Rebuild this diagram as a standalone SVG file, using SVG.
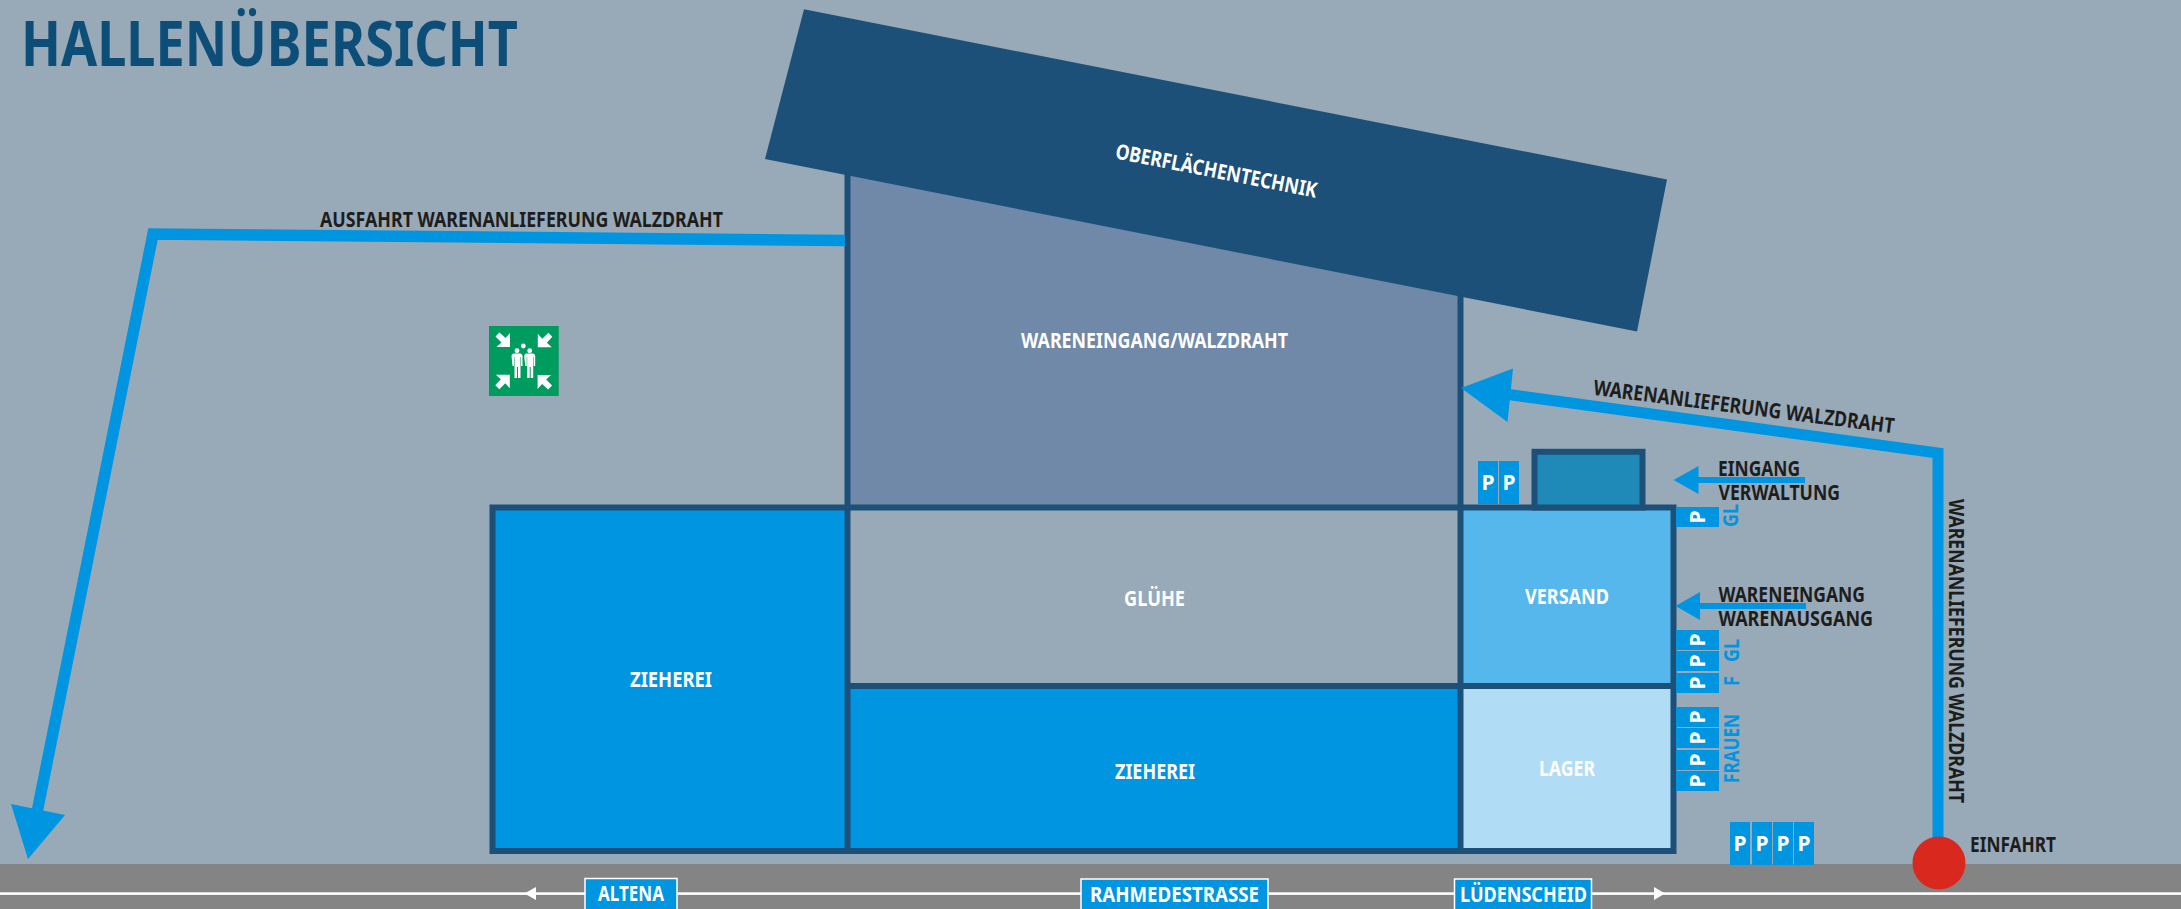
<svg xmlns="http://www.w3.org/2000/svg" xmlns:xlink="http://www.w3.org/1999/xlink" width="2181" height="909" viewBox="0 0 2181 909">
<defs>
<style>
text{font-family:"Noto Sans","Open Sans","Liberation Sans",sans-serif;font-weight:700;font-size:21px}
.w{fill:#fff}.k{fill:#1d1d1b}.b{fill:#0095e0}
.m{text-anchor:middle}
.wall{stroke:#1c5079;stroke-width:6;fill:none}
.route{stroke:#0095e0;fill:none}
.pb{fill:#0095e0}
.road{fill:#0095e0;stroke:#fff;stroke-width:1.5}
</style>
<polygon id="sa" fill="#fff" points="510,347 510,333 505.500,338 499.500,332.500 495.500,336.500 501.500,342.500 496.500,347"/>
<path id="person" fill="#fff" d="M511.500 356q0-2 2-2.500h7q2 .5 2 2.500v10h-1.500v-9h-.5v21h-2.500v-11h-1v11h-2.500v-21h-.5v9h-1.500z"/>
<g id="pv"><rect class="pb" x="0" y="0" width="43" height="20"/><text class="w m" transform="translate(29 10) rotate(-90)">P</text></g>
</defs>
<rect id="background" width="2181" height="909" fill="#98a9b8"/>
<g id="road"><rect y="864" width="2181" height="45" fill="#848484"/><rect y="892.300" width="2181" height="2.600" fill="#fff"/><polygon fill="#fff" points="524.500,893.500 536,887 536,900"/><polygon fill="#fff" points="1665,893.500 1654,887 1654,900"/></g>
<text id="title" x="21" y="66" style="font-size:62px;fill:#0d4e78" textLength="497" lengthAdjust="spacingAndGlyphs">HALLENÜBERSICHT</text>
<g id="n-wareneingang"><polygon points="847,100 1460,220 1460,510 847,510" fill="#7089a8"/><path class="wall" d="M847.500 170V507M1460.500 290V507"/><text class="w" x="1021" y="348" textLength="267" lengthAdjust="spacingAndGlyphs">WARENEINGANG/WALZDRAHT</text></g>
<g id="n-oberflaeche"><polygon points="804,9.300 1667,179.500 1637,331.500 765,159" fill="#1c5079"/><text class="w m" transform="translate(1215 178) rotate(11.100)" textLength="205" lengthAdjust="spacingAndGlyphs">OBERFLÄCHENTECHNIK</text></g>
<g id="n-zieherei1"><rect x="492.500" y="507.500" width="355" height="343.500" fill="#0095e0"/><text class="w" x="630" y="687" textLength="82" lengthAdjust="spacingAndGlyphs">ZIEHEREI</text></g>
<g id="n-gluehe"><text class="w" x="1124" y="606" textLength="61" lengthAdjust="spacingAndGlyphs">GLÜHE</text></g>
<g id="n-zieherei2"><rect x="847.500" y="686" width="613" height="165" fill="#0095e0"/><text class="w" x="1115" y="779" textLength="80" lengthAdjust="spacingAndGlyphs">ZIEHEREI</text></g>
<g id="n-versand"><rect x="1460.500" y="507.500" width="213" height="178.500" fill="#55b7ec"/><text class="w" x="1525" y="604" textLength="84" lengthAdjust="spacingAndGlyphs">VERSAND</text></g>
<g id="n-lager"><rect x="1460.500" y="686" width="213" height="165" fill="#b1dcf6"/><text class="w" x="1539" y="776" textLength="56" lengthAdjust="spacingAndGlyphs">LAGER</text></g>
<g id="n-walls"><path class="wall" d="M492.500 507.500H1673.500V851H492.500ZM847.500 507.500V851M1460.500 507.500V851M847.500 686H1673.500"/></g>
<g id="n-verwaltung"><rect x="1534.500" y="451.800" width="108" height="55.700" class="wall" style="fill:#1f89b7"/></g>
<g id="n-sign"><rect x="489" y="326" width="69.700" height="70" fill="#009b5f"/><use xlink:href="#sa"/><use xlink:href="#sa" transform="rotate(90 523.800 361)"/><use xlink:href="#sa" transform="rotate(180 523.800 361)"/><use xlink:href="#sa" transform="rotate(270 523.800 361)"/><circle cx="517" cy="350.700" r="2.400" fill="#fff"/><circle cx="529.700" cy="350.700" r="2.400" fill="#fff"/><circle cx="523.300" cy="346" r="2.400" fill="#fff"/><use xlink:href="#person"/><use xlink:href="#person" transform="translate(12.700 0)"/></g>
<g id="parking">
<g id="p-top"><rect class="pb" x="1478" y="461" width="20" height="43"/><rect class="pb" x="1499" y="461" width="20" height="43"/><text class="w m" x="1488" y="490">P</text><text class="w m" x="1509" y="490">P</text></g>
<g id="p-right">
<use xlink:href="#pv" transform="translate(1676 507)"/>
<use xlink:href="#pv" transform="translate(1676 630)"/>
<use xlink:href="#pv" transform="translate(1676 651)"/>
<use xlink:href="#pv" transform="translate(1676 673)"/>
<use xlink:href="#pv" transform="translate(1676 707)"/>
<use xlink:href="#pv" transform="translate(1676 728)"/>
<use xlink:href="#pv" transform="translate(1676 750)"/>
<use xlink:href="#pv" transform="translate(1676 771)"/>
</g>
<g id="p-bottom"><rect class="pb" x="1730" y="822" width="20" height="43"/><rect class="pb" x="1752" y="822" width="20" height="43"/><rect class="pb" x="1773" y="822" width="20" height="43"/><rect class="pb" x="1794" y="822" width="20" height="43"/><text class="w m" x="1740" y="851">P</text><text class="w m" x="1762" y="851">P</text><text class="w m" x="1783" y="851">P</text><text class="w m" x="1804" y="851">P</text></g>
<text class="b" style="font-size:22px" transform="translate(1738 527) rotate(-90)" textLength="23" lengthAdjust="spacingAndGlyphs">GL</text>
<text class="b" style="font-size:22px" transform="translate(1739 662) rotate(-90)" textLength="23" lengthAdjust="spacingAndGlyphs">GL</text>
<text class="b" style="font-size:22px" transform="translate(1739 686) rotate(-90)" textLength="10" lengthAdjust="spacingAndGlyphs">F</text>
<text class="b" style="font-size:22px" transform="translate(1739 783) rotate(-90)" textLength="69" lengthAdjust="spacingAndGlyphs">FRAUEN</text>
</g>
<g id="connectors">
<path class="route" stroke-width="11.500" d="M845 240.500L153 234L37.500 810"/>
<polygon class="pb" points="11,804 65,815 28,859"/>
<path class="route" stroke-width="11" d="M1938 840V453L1505 394"/>
<polygon class="pb" points="1461,388 1513,368.600 1507.500,422"/>
<path class="route" stroke-width="6" d="M1805 480H1695"/>
<polygon class="pb" points="1673.600,480 1698.500,466 1698.500,494"/>
<path class="route" stroke-width="6" d="M1806 606H1695"/>
<polygon class="pb" points="1675.500,606 1700,592 1700,620"/>
</g>
<g id="n-einfahrt"><circle cx="1939" cy="863" r="26.500" fill="#d9281e"/><text class="k" x="1970" y="852" textLength="86" lengthAdjust="spacingAndGlyphs">EINFAHRT</text></g>
<g id="labels">
<text class="k" x="320" y="226.700" textLength="403" lengthAdjust="spacingAndGlyphs">AUSFAHRT WARENANLIEFERUNG WALZDRAHT</text>
<text class="k m" transform="translate(1743 414) rotate(7.300)" textLength="303" lengthAdjust="spacingAndGlyphs">WARENANLIEFERUNG WALZDRAHT</text>
<text class="k" transform="translate(1949 499) rotate(90)" textLength="304" lengthAdjust="spacingAndGlyphs">WARENANLIEFERUNG WALZDRAHT</text>
<text class="k" x="1718" y="475.700" textLength="82" lengthAdjust="spacingAndGlyphs">EINGANG</text>
<text class="k" x="1718.500" y="500" textLength="121.500" lengthAdjust="spacingAndGlyphs">VERWALTUNG</text>
<text class="k" x="1718.500" y="602" textLength="146.500" lengthAdjust="spacingAndGlyphs">WARENEINGANG</text>
<text class="k" x="1718.500" y="626" textLength="154.500" lengthAdjust="spacingAndGlyphs">WARENAUSGANG</text>
</g>
<g id="road-labels">
<g id="r-altena"><rect class="road" x="585" y="878.500" width="92" height="32"/><text class="w" x="598" y="901" textLength="66" lengthAdjust="spacingAndGlyphs">ALTENA</text></g>
<g id="r-rahmede"><rect class="road" x="1081" y="879" width="187" height="32"/><text class="w" x="1090" y="902" textLength="169" lengthAdjust="spacingAndGlyphs">RAHMEDESTRASSE</text></g>
<g id="r-luedenscheid"><rect class="road" x="1454.500" y="879" width="137" height="32"/><text class="w" x="1460" y="902" textLength="127" lengthAdjust="spacingAndGlyphs">LÜDENSCHEID</text></g>
</g>
</svg>
